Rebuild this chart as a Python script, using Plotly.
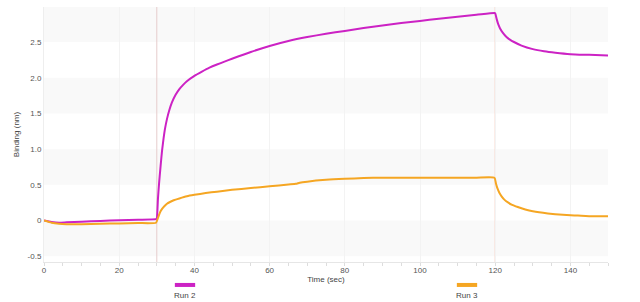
import plotly.graph_objects as go

# ---- data ----
run2_t = [0, 2, 4, 6, 10, 15, 20, 25, 29.8,
          30.0, 30.3, 30.6, 31.0, 31.4, 31.8, 32.2, 32.7, 33.3, 34, 35, 36, 37, 38, 40, 42, 44, 46, 48, 50,
          55, 60, 65, 70, 75, 80, 85, 90, 95, 100, 105, 110, 115, 119.8,
          120.0, 120.4, 120.8, 121.3, 122, 123, 124, 125, 127, 130, 133, 136, 140, 145, 150]
run2_v = [0.00, -0.02, -0.03, -0.025, -0.015, -0.005, 0.005, 0.012, 0.02,
          0.03, 0.30, 0.52, 0.76, 0.98, 1.15, 1.29, 1.42, 1.54, 1.65, 1.76, 1.84, 1.90, 1.95, 2.025, 2.085, 2.14, 2.185, 2.225, 2.265,
          2.36, 2.445, 2.515, 2.57, 2.615, 2.655, 2.695, 2.73, 2.765, 2.795, 2.825, 2.855, 2.88, 2.905,
          2.90, 2.82, 2.75, 2.69, 2.63, 2.57, 2.53, 2.50, 2.45, 2.40, 2.37, 2.35, 2.33, 2.32, 2.31]

run3_t = [0, 2, 4, 6, 10, 15, 20, 25, 29.8,
          30.2, 30.6, 31.0, 31.5, 32.0, 32.7, 33.5, 34.5, 36, 38, 40, 43, 46, 50, 55, 60, 65, 67, 68,
          70, 75, 80, 85, 90, 95, 100, 105, 110, 115, 119.8,
          120.2, 120.6, 121.1, 121.7, 122.5, 123.5, 124.5, 126, 128, 130, 134, 138, 142, 146, 150]
run3_v = [0.00, -0.03, -0.045, -0.05, -0.05, -0.045, -0.04, -0.035, -0.03,
          0.02, 0.08, 0.13, 0.17, 0.20, 0.235, 0.26, 0.285, 0.31, 0.34, 0.36, 0.385, 0.405, 0.43, 0.455, 0.48, 0.505, 0.515, 0.53,
          0.545, 0.57, 0.585, 0.595, 0.60, 0.60, 0.60, 0.60, 0.60, 0.60, 0.60,
          0.52, 0.45, 0.39, 0.34, 0.29, 0.25, 0.22, 0.19, 0.155, 0.13, 0.10, 0.08, 0.07, 0.06, 0.06]

x_ticks = [0, 20, 40, 60, 80, 100, 120, 140]
y_ticks = [-0.5, 0, 0.5, 1.0, 1.5, 2.0, 2.5]
y_tick_labels = ["-0.5", "0", "0.5", "1.0", "1.5", "2.0", "2.5"]
event_times = [30, 120]
series_names = ["Run 2", "Run 3"]

X_RANGE = [0, 150]
Y_RANGE = [-0.58, 2.99]
C2 = "#cc22c4"
C3 = "#f5a623"
FONT = "Liberation Sans"

fig = go.Figure()
fig.add_trace(go.Scatter(x=run2_t, y=run2_v, mode="lines", name=series_names[0],
                         line=dict(color=C2, width=2, shape="spline", smoothing=0.5),
                         showlegend=False))
fig.add_trace(go.Scatter(x=run3_t, y=run3_v, mode="lines", name=series_names[1],
                         line=dict(color=C3, width=2, shape="spline", smoothing=0.5),
                         showlegend=False))

shapes = []
# alternating background bands
band_edges = y_ticks + [Y_RANGE[1]]
for i in range(0, len(band_edges) - 1, 2):
    shapes.append(dict(type="rect", xref="paper", yref="y", x0=0, x1=1,
                       y0=band_edges[i], y1=band_edges[i + 1],
                       fillcolor="#f9f9f9", line=dict(width=0), layer="below"))
# event lines
event_colors = ["#e6cccc", "#f5c6b4"]
for t, c in zip(event_times, event_colors):
    shapes.append(dict(type="line", xref="x", yref="paper", x0=t, x1=t, y0=0, y1=1,
                       line=dict(color=c, width=1), layer="below"))
# custom legend swatches
leg_x = [0.25, 0.75]
for xc, c in zip(leg_x, [C2, C3]):
    shapes.append(dict(type="line", xref="paper", yref="paper", x0=xc - 0.018, x1=xc + 0.018,
                       y0=-0.09, y1=-0.09, line=dict(color=c, width=4)))

annotations = []
for xc, name in zip(leg_x, series_names):
    annotations.append(dict(text=name, xref="paper", yref="paper", x=xc, y=-0.13,
                            showarrow=False, xanchor="center", yanchor="middle",
                            font=dict(size=8, color="#444", family=FONT)))

fig.update_layout(
    width=640, height=302,
    margin=dict(l=44, r=32, t=7, b=40),
    plot_bgcolor="white", paper_bgcolor="white",
    font=dict(family=FONT, size=8, color="#555"),
    shapes=shapes, annotations=annotations,
    xaxis=dict(range=X_RANGE, tickvals=x_ticks, showgrid=True, gridcolor="#f3f3f3",
               zeroline=False, showline=True, linecolor="#e6e6e6",
               ticks="", tickfont=dict(size=8, color="#555"),
               minor=dict(dtick=5, ticks="outside", ticklen=3, tickcolor="#dddddd", showgrid=False),
               title=dict(text="Time (sec)", font=dict(size=8, color="#444"), standoff=2)),
    yaxis=dict(range=Y_RANGE, tickvals=y_ticks, ticktext=y_tick_labels, showgrid=False,
               zeroline=False, showline=True, linecolor="#eeeeee", ticks="",
               tickfont=dict(size=8, color="#555"),
               title=dict(text="Binding (nm)", font=dict(size=8, color="#444"), standoff=6)),
)

fig.write_html("out.html")
